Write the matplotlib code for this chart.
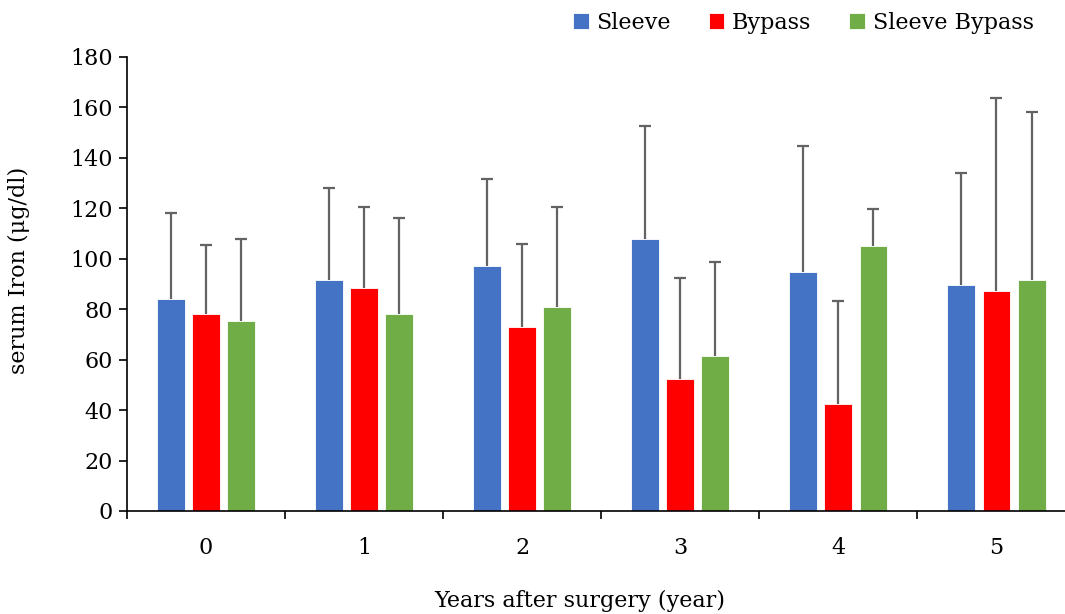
import matplotlib
matplotlib.use("Agg")
import matplotlib.pyplot as plt
import numpy as np

# --- data ---
years = ["0", "1", "2", "3", "4", "5"]
series = ["Sleeve", "Bypass", "Sleeve Bypass"]
colors = ["#4472C4", "#FF0000", "#70AD47"]

sleeve = [84.0, 91.7, 97.0, 108.0, 94.6, 89.5]
bypass = [78.0, 88.6, 72.8, 52.2, 42.5, 87.2]
sleeve_bypass = [75.5, 78.0, 80.9, 61.3, 105.2, 91.5]

sleeve_sd = [34.3, 36.4, 34.5, 44.5, 50.1, 44.5]
bypass_sd = [27.5, 32.1, 33.2, 40.3, 40.9, 76.4]
sleeve_bypass_sd = [32.4, 38.2, 39.6, 37.3, 14.7, 66.7]

values = [sleeve, bypass, sleeve_bypass]
errors = [sleeve_sd, bypass_sd, sleeve_bypass_sd]

plt.rcParams["font.family"] = ["DejaVu Serif"]

fig = plt.figure(figsize=(10.65, 6.14), dpi=100)
ax = fig.add_axes([0.1192, 0.1678, 0.8907, 0.7394])

x = np.arange(len(years))
width = 0.177
step = 0.222

for i, (vals, errs, name, col) in enumerate(zip(values, errors, series, colors)):
    pos = x + (i - 1) * step
    ax.bar(pos, vals, width=width, color=col, edgecolor="white",
           linewidth=0.6, label=name, zorder=2)
    eb = ax.errorbar(pos, vals, yerr=[np.zeros(len(errs)), errs], fmt="none",
                     ecolor="#636363", elinewidth=1.6, capsize=4.3,
                     capthick=1.6, zorder=3)
    # only the upper cap, as in the source chart
    for cap in eb.lines[1]:
        if np.allclose(cap.get_ydata(), vals):
            cap.set_visible(False)

ax.set_xlim(-0.5, len(years) - 0.5)
ax.set_ylim(0, 180)
ax.set_yticks(np.arange(0, 181, 20))
ax.set_xticks(x)
ax.set_xticklabels(years)
ax.set_xticks(np.arange(-0.5, len(years), 1.0), minor=True)

ax.tick_params(axis="x", which="major", length=0, pad=19, labelsize=16)
ax.tick_params(axis="x", which="minor", length=6, width=1.2, direction="out")
ax.tick_params(axis="y", length=6, width=1.2, direction="out", pad=4,
               labelsize=16)

for s in ["top", "right"]:
    ax.spines[s].set_visible(False)
ax.spines["left"].set_linewidth(1.2)
ax.spines["bottom"].set_linewidth(1.2)

ax.set_ylabel("serum Iron (μg/dl)", fontsize=16)
ax.yaxis.set_label_coords(-0.102, 0.531)
ax.set_xlabel("Years after surgery (year)", fontsize=16, va="center")
ax.xaxis.set_label_coords(0.4776, -0.198)

ax.legend(loc="center right", bbox_to_anchor=(0.981, 0.963),
          bbox_transform=fig.transFigure, ncol=3, frameon=False,
          fontsize=16, handlelength=0.7, handleheight=0.7,
          handletextpad=0.35, columnspacing=1.7, borderpad=0)

fig.savefig("out.png", dpi=100)
plt.close()
